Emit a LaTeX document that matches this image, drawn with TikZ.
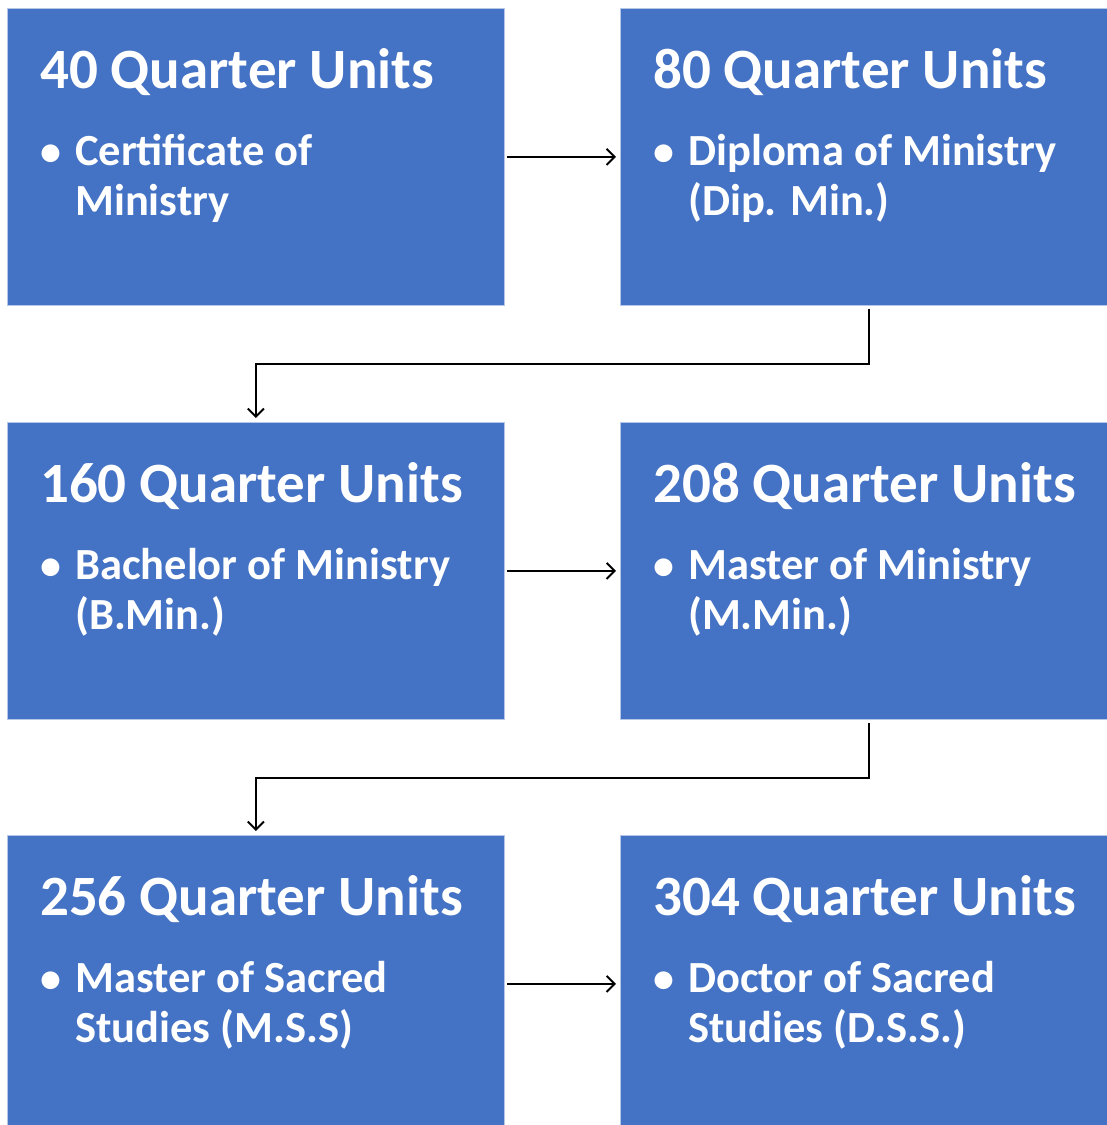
\documentclass[tikz,border=0pt]{standalone}
\usepackage{fontspec}
\setmainfont{Carlito}
\usetikzlibrary{arrows.meta}
\definecolor{boxblue}{HTML}{4472C4}
\tikzset{
  x=1pt,y=1pt,
  stagebox/.style={fill=boxblue,draw=boxblue!40!white,line width=0.8pt,minimum width=497pt,minimum height=297pt,anchor=north west,inner sep=0pt},
  titletext/.style={anchor=base west,text=white,font=\bfseries\fontsize{57}{64}\selectfont,inner sep=0pt},
  itemtext/.style={anchor=base west,text=white,font=\bfseries\fontsize{44.5}{50}\selectfont,inner sep=0pt,align=left},
  dottext/.style={anchor=base west,text=white,font=\bfseries\fontsize{42}{46}\selectfont,inner sep=0pt},
  link/.style={draw=black,line width=2pt,-{Straight Barb[length=8pt,width=16pt,line width=2pt]}}
}
\newcommand{\stage}[5]{%
  \node[stagebox] (#1) at (#2,#3) {};
  \node[titletext] (#1t) at ([xshift=33pt,yshift=-80pt]#1.north west) {#4};
  \node[dottext] (#1d) at ([xshift=33pt,yshift=-157pt]#1.north west) {•};
  \node[itemtext] (#1i) at ([xshift=68pt,yshift=-207pt]#1.north west) {#5};
}
\begin{document}
\begin{tikzpicture}
\clip (0,0) rectangle (1107,-1125);
\fill[white] (0,0) rectangle (1107,-1125);
\stage{b1}{7}{-8}{40 Quarter Units}{Certificate of\\Ministry}
\stage{b2}{620}{-8}{80 Quarter Units}{Diploma of Ministry\\(Dip. Min.)}
\stage{b3}{7}{-422}{160 Quarter Units}{Bachelor of Ministry\\(B.Min.)}
\stage{b4}{620}{-422}{208 Quarter Units}{Master of Ministry\\(M.Min.)}
\stage{b5}{7}{-835}{256 Quarter Units}{Master of Sacred\\Studies (M.S.S)}
\stage{b6}{620}{-835}{304 Quarter Units}{Doctor of Sacred\\Studies (D.S.S.)}
\draw[link,shorten <=2pt,shorten >=4pt] (b1.east) -- (b2.west);
\draw[link,shorten <=2pt,shorten >=4pt] (b3.east) -- (b4.west);
\draw[link,shorten <=2pt,shorten >=4pt] (b5.east) -- (b6.west);
\draw[link,shorten <=3pt,shorten >=4pt] (b2.south) -- ++(0,-58.5) -| (b3.north);
\draw[link,shorten <=3pt,shorten >=4pt] (b4.south) -- ++(0,-58) -| (b5.north);
\end{tikzpicture}
\end{document}
